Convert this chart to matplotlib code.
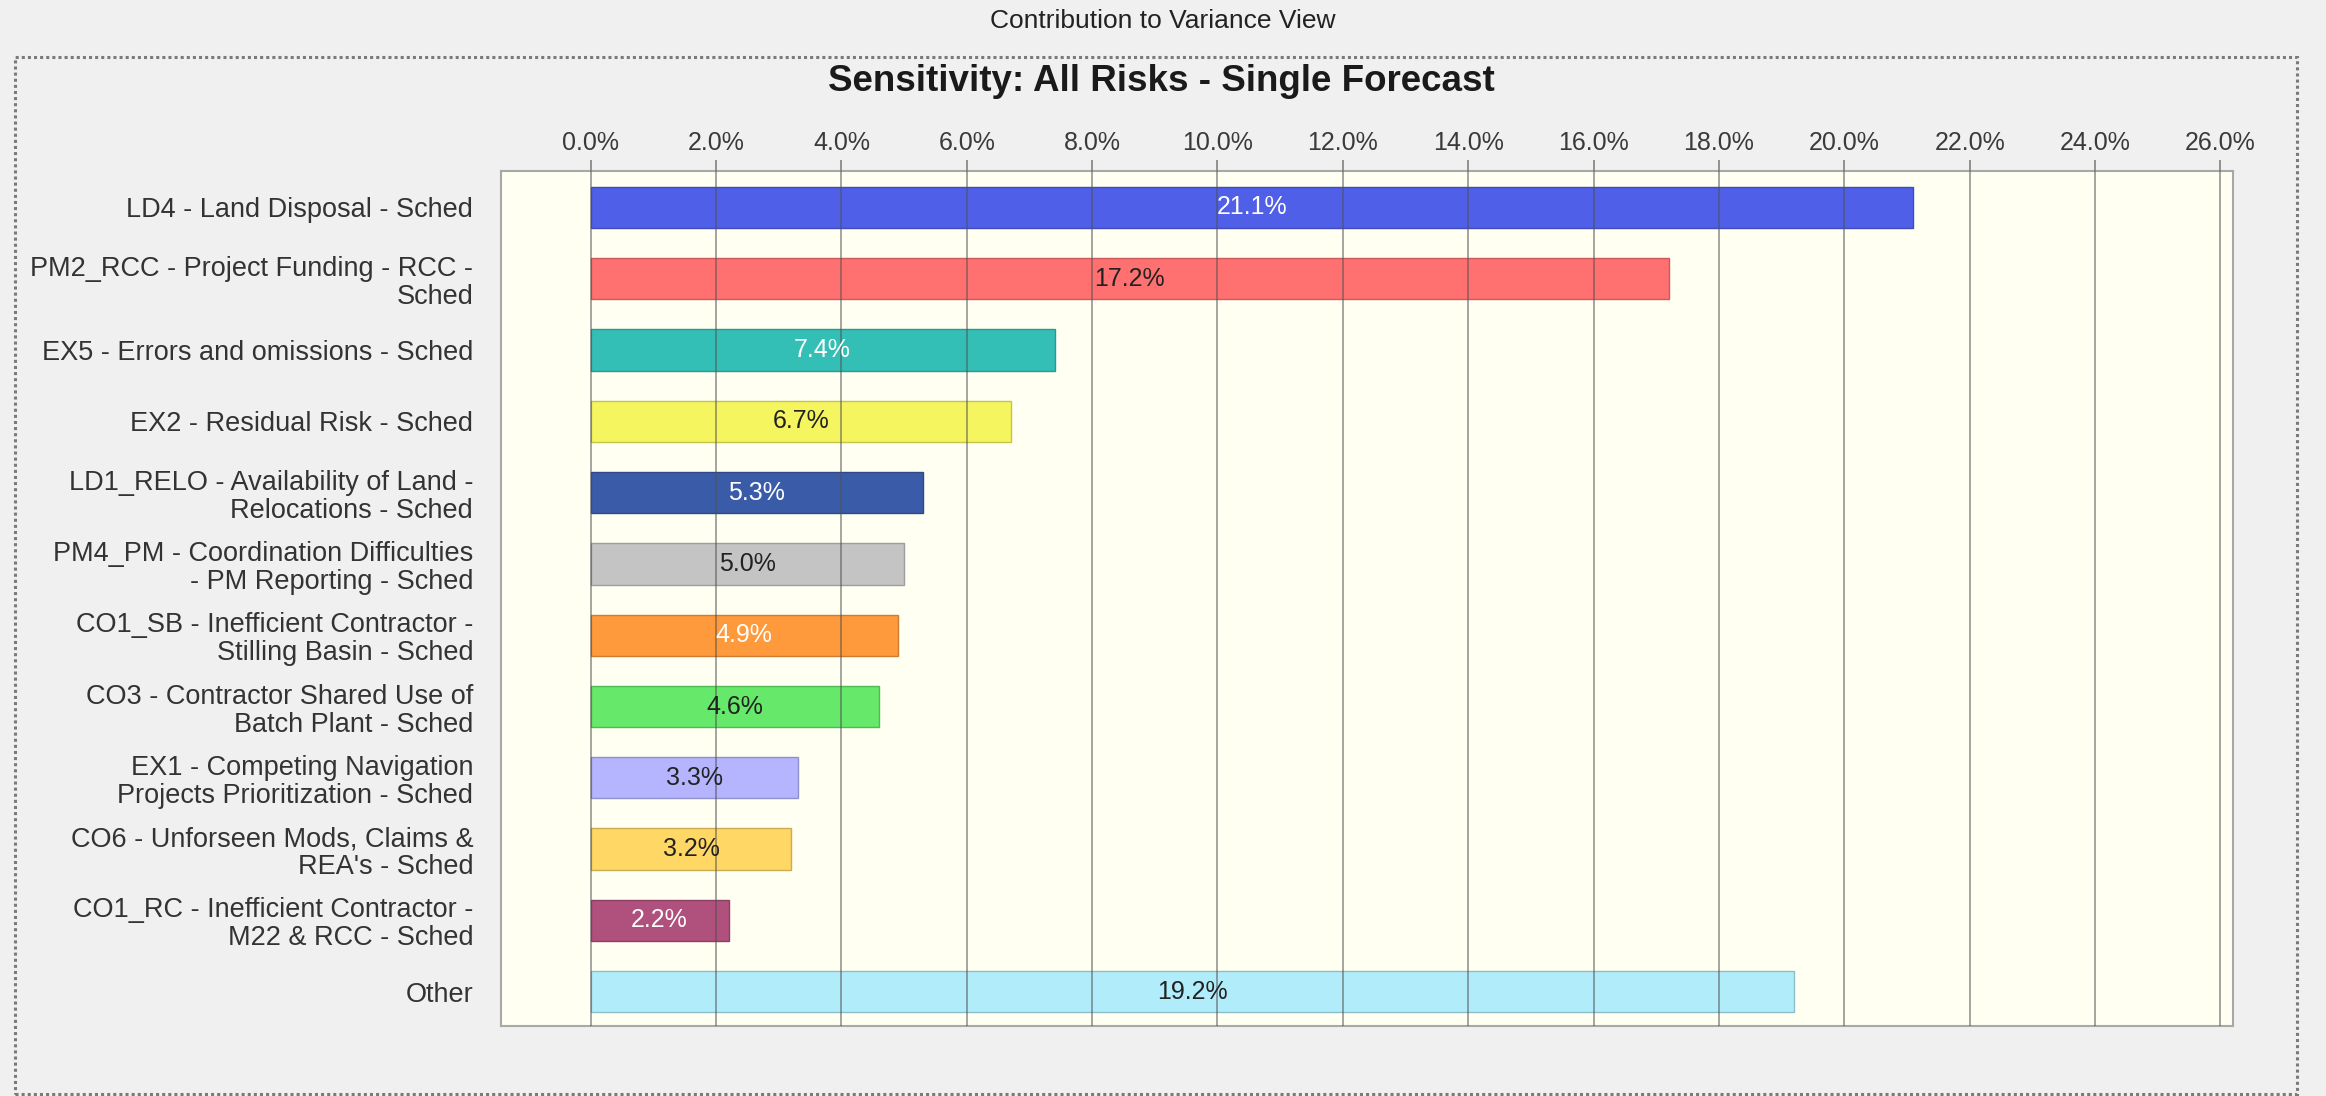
import matplotlib
matplotlib.use("Agg")
import matplotlib.pyplot as plt
import matplotlib.colors as mcolors
from matplotlib.patches import Rectangle

plt.rcParams["font.family"] = ["Liberation Sans", "DejaVu Sans"]

risks = [
    "LD4 - Land Disposal - Sched",
    "PM2_RCC - Project Funding - RCC -\nSched",
    "EX5 - Errors and omissions - Sched",
    "EX2 - Residual Risk - Sched",
    "LD1_RELO - Availability of Land -\nRelocations - Sched",
    "PM4_PM - Coordination Difficulties\n- PM Reporting - Sched",
    "CO1_SB - Inefficient Contractor -\nStilling Basin - Sched",
    "CO3 - Contractor Shared Use of\nBatch Plant - Sched",
    "EX1 - Competing Navigation\nProjects Prioritization - Sched",
    "CO6 - Unforseen Mods, Claims &\nREA's - Sched",
    "CO1_RC - Inefficient Contractor -\nM22 & RCC - Sched",
    "Other",
]
contrib = [21.1, 17.2, 7.4, 6.7, 5.3, 5.0, 4.9, 4.6, 3.3, 3.2, 2.2, 19.2]
bar_colors = ["#4f5fe8", "#ff7070", "#33bfb5", "#f5f560", "#3a5ca8", "#c4c4c4",
              "#ff9a3c", "#66e86a", "#b4b4ff", "#ffd764", "#b0507c", "#b0ecfa"]
label_colors = ["white", "#222222", "white", "#222222", "white", "#222222",
                "white", "#222222", "#222222", "#222222", "white", "#222222"]
xticks = list(range(0, 27, 2))

fig = plt.figure(figsize=(23.26, 10.96), dpi=100, facecolor="#f0f0f0")
ax = fig.add_axes([0.2154, 0.0639, 0.7446, 0.7801])
ax.set_facecolor("#fffff2")

edge = [tuple(c * 0.8 for c in mcolors.to_rgb(col)) for col in bar_colors]
y = list(range(len(risks)))
ax.barh(y, contrib, height=0.58, color=bar_colors, edgecolor=edge,
        linewidth=1.0, zorder=1)
for yi, v, tc in zip(y, contrib, label_colors):
    ax.text(v / 2, yi, f"{v:.1f}%", ha="center", va="center", fontsize=18,
            color=tc, zorder=4)

ax.set_xlim(-1.43, 26.2)
ax.set_ylim(11.48, -0.51)
ax.set_xticks(xticks)
ax.set_xticklabels([f"{t:.1f}%" for t in xticks])
ax.xaxis.tick_top()
ax.tick_params(axis="x", length=8, width=1.2, color="#808080", pad=3.5,
               labelsize=18, labelcolor="#3a3a3a")
ax.set_yticks(y)
ax.set_yticklabels(risks, fontsize=19.5, color="#333333", linespacing=1.1)
ax.tick_params(axis="y", length=0, pad=20)
ax.set_axisbelow(False)
ax.grid(axis="x", color="#505050", alpha=0.6, lw=1.2, zorder=2)
for s in ax.spines.values():
    s.set_color("#a8a8a8")
    s.set_linewidth(1.5)

# outer dotted frame round the chart panel
fig.patches.append(Rectangle((0.0065, 0.002), 0.981, 0.946, transform=fig.transFigure,
                             fill=False, ec="#7a7a7a", lw=2.2, ls=(0, (1, 1))))

fig.text(0.5, 0.981, "Contribution to Variance View", ha="center", va="center",
         fontsize=19, color="#222222")
fig.text(0.4994, 0.926, "Sensitivity: All Risks - Single Forecast", ha="center",
         va="center", fontsize=26.5, fontweight="bold", color="#1a1a1a")

fig.savefig("out.png", dpi=100, facecolor=fig.get_facecolor())
